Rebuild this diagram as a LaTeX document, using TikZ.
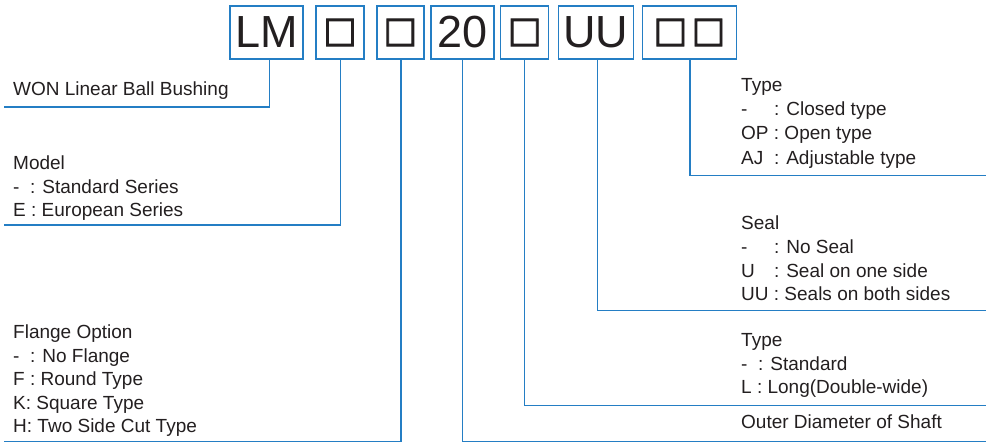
\documentclass[tikz,border=0pt]{standalone}
\usepackage{fontspec}
\setmainfont{Liberation Sans}
\newfontfamily\symf[FakeBold=2.5]{DejaVu Sans Bold}
\definecolor{lnblue}{RGB}{36,126,196}
\definecolor{txt}{RGB}{35,31,32}
\newcommand{\sq}{{\symf\fontsize{35.5}{35.5}\selectfont\raisebox{-3pt}{□}}}
\begin{document}
\begin{tikzpicture}[x=1pt,y=-1pt,
  codebox/.style={draw=lnblue, line width=1.4pt, inner sep=0pt, minimum height=53pt, text=txt, font=\fontsize{45}{45}\selectfont},
  conn/.style={draw=lnblue, line width=1.4pt},
  lbl/.style={anchor=base west, inner sep=0pt, text=txt, font=\fontsize{19}{19}\selectfont}]
\useasboundingbox (0,0) rectangle (991,443);
% code boxes
\node[codebox, minimum width=73pt] (b1) at (266.5,32.5) {LM};
\node[codebox, minimum width=48pt] (b2) at (340,32.5) {\sq};
\node[codebox, minimum width=47pt] (b3) at (400.3,32.5) {\sq};
\node[codebox, minimum width=63pt] (b4) at (462.3,32.5) {20};
\node[codebox, minimum width=48pt] (b5) at (524.7,32.5) {\sq};
\node[codebox, minimum width=75pt] (b6) at (595.8,32.5) {UU};
\node[codebox, minimum width=94pt] (b7) at (689.5,32.5) {\sq\hspace{4.5pt}\sq};
% line ends
\coordinate (e1) at (4,107);
\coordinate (e2) at (4,225);
\coordinate (e3) at (4,441.5);
\coordinate (e4) at (986,441.5);
\coordinate (e5) at (986,405.5);
\coordinate (e6) at (986,310.7);
\coordinate (e7) at (986,175.5);
\draw[conn] ([xshift=2.8pt]b1.south) |- (e1);
\draw[conn] ([xshift=0.7pt]b2.south) |- (e2);
\draw[conn] ([xshift=0.7pt]b3.south) |- (e3);
\draw[conn] ([xshift=0.4pt]b4.south) |- (e4);
\draw[conn] ([xshift=-0.2pt]b5.south) |- (e5);
\draw[conn] ([xshift=1.7pt]b6.south) |- (e6);
\draw[conn] ([xshift=0.5pt]b7.south) |- (e7);
% left texts
\node[lbl] (won) at (13,96) {WON Linear Ball Bushing};
\node[lbl] (m0) at (13,170) {Model};
\node[lbl] (m1) at (13,193.5) {-\ \ : Standard Series};
\node[lbl] (m2) at (13,217) {E : European Series};
\node[lbl] (f0) at (13,339) {Flange Option};
\node[lbl] (f1) at (13,362.5) {-\ \ : No Flange};
\node[lbl] (f2) at (13,386) {F : Round Type};
\node[lbl] (f3) at (13,409.5) {K: Square Type};
\node[lbl] (f4) at (13,433) {H: Two Side Cut Type};
% right texts
\node[lbl] (t0) at (741,91.7) {Type};
\node[lbl] (t1) at (741,116) {-};
\node[lbl] (t1b) at (773.8,116) {: Closed type};
\node[lbl] (t2) at (741,140) {OP : Open type};
\node[lbl] (t3) at (741,164.3) {AJ};
\node[lbl] (t3b) at (773.8,164.3) {: Adjustable type};
\node[lbl] (s0) at (741,229.3) {Seal};
\node[lbl] (s1) at (741,253.3) {-};
\node[lbl] (s1b) at (773.8,253.3) {: No Seal};
\node[lbl] (s2) at (741,277.3) {U};
\node[lbl] (s2b) at (773.8,277.3) {: Seal on one side};
\node[lbl] (s3) at (741,300.7) {UU : Seals on both sides};
\node[lbl] (l0) at (741,346.7) {Type};
\node[lbl] (l1) at (741,370.3) {-\ \ : Standard};
\node[lbl] (l2) at (741,393.8) {L : Long(Double-wide)};
\node[lbl] (od) at (741,428.5) {Outer Diameter of Shaft};
\end{tikzpicture}
\end{document}
